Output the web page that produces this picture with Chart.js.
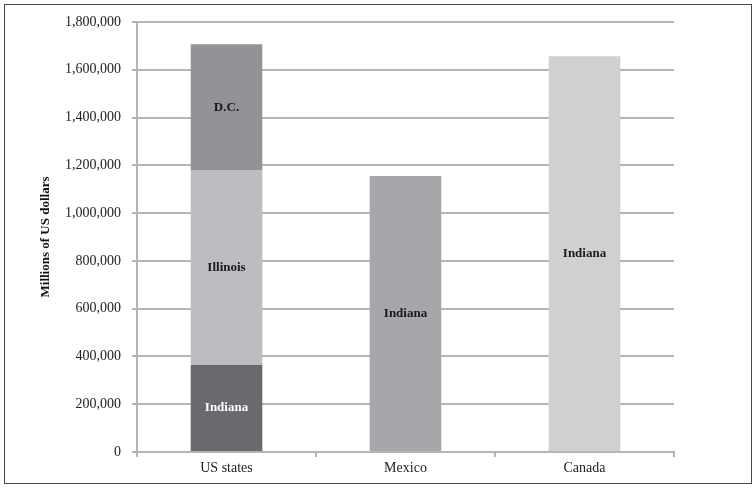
<!DOCTYPE html>
<html>
<head>
<meta charset="utf-8">
<script src="https://cdn.jsdelivr.net/npm/chart.js@4"></script>
<style>
  body { margin: 0; background: #fff; }
  #wrap { position: absolute; left: 0; top: 0; width: 756px; height: 488px; }
  #frame { position: absolute; left: 4px; top: 4px; width: 746px; height: 478px; border: 1.5px solid #4a4a4a; pointer-events: none; }
</style>
</head>
<body>
<div id="wrap">
  <canvas id="chart" width="756" height="488"></canvas>
  <div id="frame"></div>
</div>
<script>
// Datos
const categories = ['US states', 'Mexico', 'Canada'];
const indiana = [364000, 1155000, 1657000];
const illinois = [816000, null, null];
const dc = [527000, null, null];
const yMax = 1800000;
const yStep = 200000;

const serif = '"Liberation Serif", "DejaVu Serif", serif';

// Etiquetas dentro de las barras
const barLabels = {
    id: 'barLabels',
    afterDatasetsDraw(chart) {
        const ctx = chart.ctx;
        ctx.save();
        ctx.font = 'bold 13px ' + serif;
        ctx.textAlign = 'center';
        ctx.textBaseline = 'middle';
        chart.data.datasets.forEach((ds, i) => {
            const meta = chart.getDatasetMeta(i);
            meta.data.forEach((bar, j) => {
                if (ds.data[j] == null) return;
                const p = bar.getCenterPoint();
                ctx.fillStyle = ds.labelColors[j];
                ctx.fillText(ds.label, p.x, p.y);
            });
        });
        ctx.restore();
    }
};

const ctx = document.getElementById('chart').getContext('2d');
new Chart(ctx, {
    type: 'bar',
    data: {
        labels: categories,
        datasets: [
            {
                label: 'Indiana',
                data: indiana,
                backgroundColor: ['#6a6a6e', '#a6a7aa', '#d0d0d2'],
                labelColors: ['#ffffff', '#1a1a1a', '#1a1a1a']
            },
            {
                label: 'Illinois',
                data: illinois,
                backgroundColor: '#bcbdc0',
                labelColors: ['#1a1a1a', '#1a1a1a', '#1a1a1a']
            },
            {
                label: 'D.C.',
                data: dc,
                backgroundColor: '#929396',
                labelColors: ['#1a1a1a', '#1a1a1a', '#1a1a1a']
            }
        ]
    },
    options: {
        responsive: false,
        animation: false,
        barPercentage: 0.4,
        categoryPercentage: 1,
        layout: { padding: { left: 38, right: 82, top: 22, bottom: 0 } },
        plugins: {
            legend: { display: false },
            tooltip: { enabled: false }
        },
        scales: {
            x: {
                stacked: true,
                offset: true,
                grid: { offset: true, drawOnChartArea: false, color: '#b5b5b5', lineWidth: 2, tickLength: 5 },
                border: { color: '#b5b5b5', width: 2 },
                ticks: { color: '#222', font: { family: serif, size: 14 }, padding: 3 },
                afterFit(scale) { scale.height = 36; }
            },
            y: {
                stacked: true,
                min: 0,
                max: yMax,
                ticks: {
                    stepSize: yStep,
                    color: '#222',
                    font: { family: serif, size: 14 },
                    padding: 11,
                    callback: v => v.toLocaleString('en-US')
                },
                grid: { color: '#b5b5b5', lineWidth: 2, tickLength: 5 },
                border: { color: '#b5b5b5', width: 2 },
                title: {
                    display: true,
                    text: 'Millions of US dollars',
                    color: '#111',
                    font: { family: serif, size: 13, weight: 'bold' },
                    padding: { top: 0, bottom: 0 }
                },
                afterFit(scale) { scale.width = 99; }
            }
        }
    },
    plugins: [barLabels]
});
</script>
</body>
</html>
